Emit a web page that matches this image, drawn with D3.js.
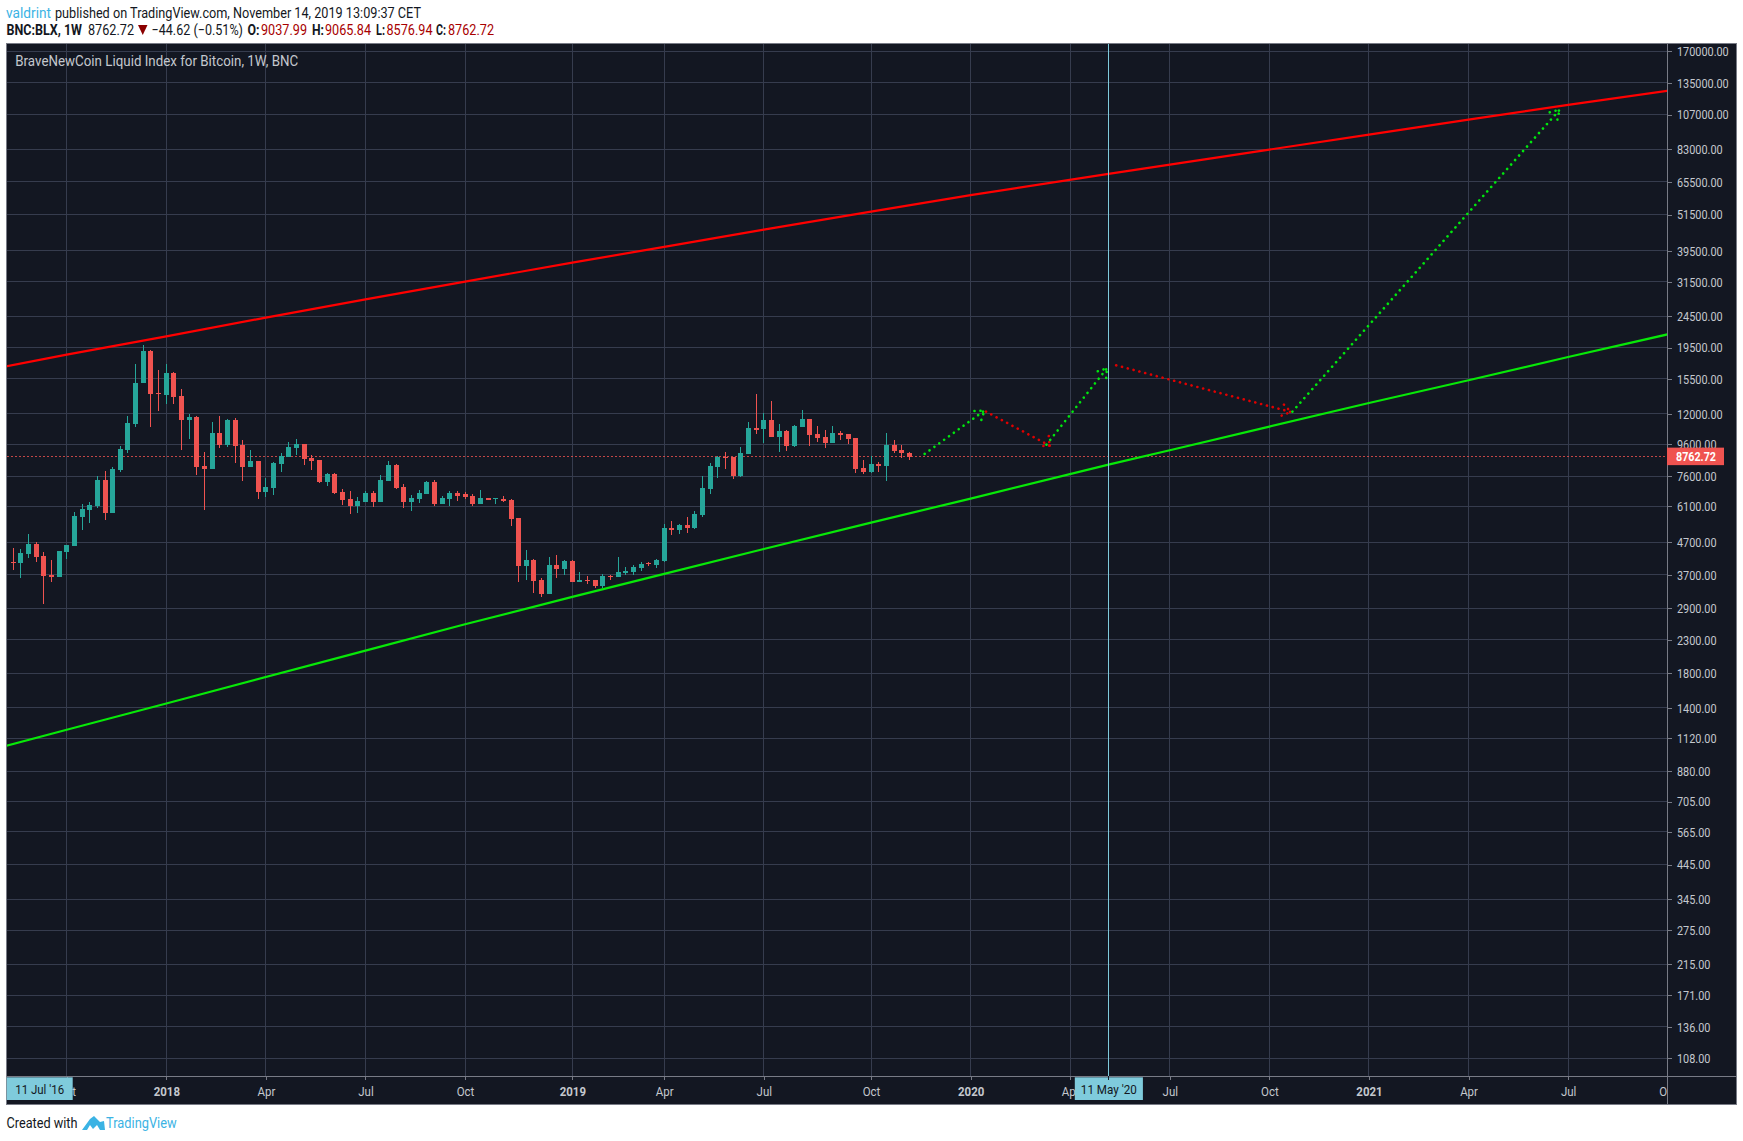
<!DOCTYPE html>
<html>
<head>
<meta charset="utf-8">
<title>BNC:BLX, 1W</title>
<script src="https://cdnjs.cloudflare.com/ajax/libs/d3/7.8.5/d3.min.js"></script>
<style>
	html, body { margin: 0; background: #fff; }
	svg { display: block; }
	text { font-family: "Roboto", sans-serif; }
</style>
</head>
<body>
<svg id="chart" width="1743" height="1141"></svg>
<script>
// weekly candles, first one is the week of 14 Aug 2017
var firstWeek = '2017-08-14';
var opens = [4077,4047,4322,4650,4260,3707,3653,4386,4583,5666,5962,6139,7424,5833,7987,9245,11180,15088,19064,14024,13821,16232,13720,11512,11767,8225,8047,10468,9589,11512,9589,8165,8531,6801,7003,8346,8785,9381,9659,8721,8593,7317,7757,6801,6462,6139,6321,6751,6321,7370,8285,7054,6321,6462,6702,7317,6229,6462,6751,6670,6605,6229,6509,6446,6462,6414,5624,3960,4137,3574,3226,3989,3874,4107,3522,3574,3574,3421,3680,3653,3761,3789,3902,4037,3989,4107,5228,5151,5343,5228,5749,6952,8165,8785,8785,7644,8979,10858,10779,11512,10166,10622,9519,10938,11596,10392,10166,9730,10468,10392,10092,8106,7871,8346,8225,9589,9245,9037.99];
var highs = [4505,4483,5003,4719,4386,4137,4418,4616,5876,6229,6321,7644,7929,8165,9519,11853,17336,19919,19204,16592,17336,16351,14440,12028,11853,9111,11345,11853,11596,11681,9946,9245,8531,7533,8469,9045,9801,10018,9659,8914,8593,7814,7814,6952,6851,6557,6851,6851,7700,8531,8346,7210,6654,6901,7370,7424,6605,6851,6851,6768,6702,6901,6509,6509,6605,6462,5624,4450,4167,3627,4229,4291,4137,4137,3789,3680,3574,3734,3707,4229,3931,3989,4077,4077,4167,5382,5502,5382,5666,5919,7644,8407,8849,9111,8785,9450,11345,13922,12116,13227,11180,10700,11099,12385,11596,11018,10700,11018,10570,10392,10092,8593,8849,8469,10468,9946,9589,9065.84];
var lows = [3845,3627,4198,4077,2999,3522,3653,4167,4583,5151,5422,6050,5542,5833,7871,9045,10938,15088,10938,12295,12940,12940,9245,10018,7700,5962,8047,9381,9450,8407,7370,8165,6462,6557,6654,7871,8785,8914,8285,7987,7263,7106,6702,6184,5791,5833,6321,6094,6321,7370,6952,6050,5919,6275,6702,6139,6229,6139,6367,6462,6139,6229,6414,6229,6321,5304,3522,3574,3250,3156,3226,3627,3707,3522,3522,3471,3371,3371,3574,3653,3707,3707,3817,3960,3902,4077,4967,5003,5040,5190,5666,6702,7533,8047,7479,7589,8979,10392,9730,10166,9111,9178,9450,10938,9519,9801,9381,9730,9946,9659,7814,7757,7814,7871,7370,9045,8721,8576.94];
var closes = [4057,4354,4650,4229,3680,3653,4418,4616,5707,6006,6184,7424,5833,8047,9313,11262,15088,19064,13922,13922,16232,13620,11512,11767,8165,8047,10468,9589,11512,9519,8165,8531,6801,7054,8407,8849,9450,9659,8657,8531,7317,7757,6751,6414,6139,6367,6751,6321,7424,8285,7003,6321,6509,6751,7317,6229,6509,6751,6605,6541,6229,6509,6414,6477,6367,5583,3960,4137,3548,3226,3989,3874,4107,3522,3574,3548,3421,3680,3653,3789,3817,3931,4018,3999,4137,5228,5151,5343,5228,5791,7003,8225,8763,8763,7644,9045,10858,10700,11512,10166,10622,9519,11018,11596,10316,10092,9730,10468,10316,10018,8047,7871,8346,8225,9589,9178,9045,8762.72];

// price scale labels
var priceTicks = [170000,135000,107000,83000,65500,51500,39500,31500,24500,19500,15500,12000,9600,7600,6100,4700,3700,2900,2300,1800,1400,1120,880,705,565,445,345,275,215,171,136,108];
var lastPrice = 8762.72;

// time scale labels
var timeTicks = ['2017-10-02','2018-01-01','2018-04-02','2018-07-02','2018-10-01','2019-01-07','2019-04-01','2019-07-01','2019-10-07','2020-01-06','2020-04-06','2020-07-06','2020-10-05','2021-01-04','2021-04-05','2021-07-05','2021-10-04'];
var timeLabels = ['Oct','2018','Apr','Jul','Oct','2019','Apr','Jul','Oct','2020','Apr','Jul','Oct','2021','Apr','Jul','Oct'];

// channel lines, weeks counted from 1 Jan 2018
var resistanceWeeks = [-21,-13,0,13,26,39,53,65,78,92,105,123,144,157,170,183,197];
var resistancePrices = [16960,18515,21165,24267,27738,31570,36273,40686,46172,52665,59373,69380,82860,92460,103190,114880,128480];
var supportWeeks = [-21,-13,0,26,39,53,65,78,92,105,123,131,144,157,170,183,197];
var supportPrices = [1059,1193,1445,2127,2578,3150,3727,4472,5422,6462,8287,9200,10938,13003,15348,18200,21746];

// dotted projection arrows, weeks from 1 Jan 2018
var moveFromWeek = [99,107,114.9,124,147];
var moveFromPrice = [8960,12205,9589,17125,12205];
var moveToWeek = [106.8,115.3,122.8,146.8,181.9];
var moveToPrice = [12295,9519,16755,12175,111000];
var armAWeek = [105.5,114.5,121.6,145.6,180.6];
var armAPrice = [12265,9496,16390,11853,108830];
var armBWeek = [106.4,115.2,122.7,145.9,181.6];
var armBPrice = [11485,10215,15612,12846,103180];
var moveUp = [true,false,true,false,true];

var crossWeek = 123;

var left = 6.5, right = 1667, top_ = 43.7, bottom = 1076, outerRight = 1736.7, outerBottom = 1104;
var bg = '#131722', gridCol = '#363c4e', frameCol = '#787b86', labelCol = '#c4c8ce', crossCol = '#7fcbdc';
var upCol = '#26a69a', downCol = '#ef5350';

var parse = d3.utcParse('%Y-%m-%d');
var base = parse('2018-01-01');
function weekDate(w) { return new Date(base.getTime() + w * 7 * 864e5); }

// the original font is narrower than anything installed, so squeeze the glyphs
function squeeze(sel, k) {
	sel.each(function() {
		this.setAttribute('textLength', this.getComputedTextLength() * k);
		this.setAttribute('lengthAdjust', 'spacingAndGlyphs');
	});
}
function fitTo(sel, w) {
	sel.attr('textLength', w).attr('lengthAdjust', 'spacingAndGlyphs');
	return sel;
}

var x = d3.scaleUtc()
	.domain([base, parse('2021-10-04')])
	.range([166.3, 1667.7]);

var y = d3.scaleLog()
	.domain([170000, 108])
	.range([51.3, 1058.3]);

var svg = d3.select('#chart');

var defs = svg.append('defs');
defs.append('clipPath').attr('id', 'pane')
	.append('rect').attr('x', left).attr('y', top_).attr('width', right - left).attr('height', bottom - top_);
defs.append('clipPath').attr('id', 'timepane')
	.append('rect').attr('x', left).attr('y', bottom).attr('width', right - left).attr('height', outerBottom - bottom);

// background and frame
svg.append('rect')
	.attr('x', left).attr('y', top_)
	.attr('width', outerRight - left).attr('height', outerBottom - top_)
	.attr('fill', bg);

var plot = svg.append('g').attr('clip-path', 'url(#pane)');

// grid
plot.append('g').selectAll('line')
	.data(priceTicks)
	.join('line')
	.attr('x1', left).attr('x2', right)
	.attr('y1', function(d) { return y(d); }).attr('y2', function(d) { return y(d); })
	.attr('stroke', gridCol).attr('shape-rendering', 'crispEdges');

plot.append('g').selectAll('line')
	.data(timeTicks)
	.join('line')
	.attr('x1', function(d) { return x(parse(d)); }).attr('x2', function(d) { return x(parse(d)); })
	.attr('y1', top_).attr('y2', bottom)
	.attr('stroke', gridCol).attr('shape-rendering', 'crispEdges');

// last price line
plot.append('line')
	.attr('x1', left).attr('x2', right)
	.attr('y1', y(lastPrice)).attr('y2', y(lastPrice))
	.attr('stroke', downCol)
	.attr('stroke-opacity', 0.8)
	.attr('stroke-dasharray', '2 2')
	.attr('shape-rendering', 'crispEdges');

// channel
var channel = d3.line()
	.x(function(d) { return x(weekDate(d[0])); })
	.y(function(d) { return y(d[1]); });

plot.append('path')
	.attr('d', channel(d3.zip(resistanceWeeks, resistancePrices)))
	.attr('fill', 'none').attr('stroke', '#ff0000').attr('stroke-width', 2.2);

plot.append('path')
	.attr('d', channel(d3.zip(supportWeeks, supportPrices)))
	.attr('fill', 'none').attr('stroke', '#08e808').attr('stroke-width', 2.2);

// candles
var candles = opens.map(function(o, i) {
	return {
		date: d3.utcDay.offset(parse(firstWeek), i * 7),
		o: o, h: highs[i], l: lows[i], c: closes[i]
	};
});

var candle = plot.append('g').selectAll('g')
	.data(candles)
	.join('g')
	.attr('fill', function(d) { return d.c >= d.o ? upCol : downCol; })
	.attr('shape-rendering', 'crispEdges');

candle.append('rect')
	.attr('x', function(d) { return x(d.date) - 0.5; })
	.attr('y', function(d) { return y(d.h); })
	.attr('width', 1)
	.attr('height', function(d) { return y(d.l) - y(d.h); });

candle.append('rect')
	.attr('x', function(d) { return x(d.date) - 2.5; })
	.attr('y', function(d) { return y(Math.max(d.o, d.c)); })
	.attr('width', 5)
	.attr('height', function(d) { return Math.max(1, Math.abs(y(d.o) - y(d.c))); });

// projection arrows
var arrows = plot.append('g').attr('fill', 'none');
moveUp.forEach(function(up, i) {
	var col = up ? '#00e60e' : '#e00000';
	var pieces = [
		[[moveFromWeek[i], moveFromPrice[i]], [moveToWeek[i], moveToPrice[i]]],
		[[armAWeek[i], armAPrice[i]], [moveToWeek[i], moveToPrice[i]]],
		[[armBWeek[i], armBPrice[i]], [moveToWeek[i], moveToPrice[i]]]
	];
	pieces.forEach(function(p) {
		arrows.append('path')
			.attr('d', channel(p))
			.attr('stroke', col)
			.attr('stroke-width', 2.6)
			.attr('stroke-linecap', 'round')
			.attr('stroke-dasharray', '0.1 5.9');
	});
});

// crosshair
var crossX = x(weekDate(crossWeek));
plot.append('line')
	.attr('x1', crossX).attr('x2', crossX)
	.attr('y1', top_).attr('y2', bottom)
	.attr('stroke', crossCol).attr('stroke-width', 1);

plot.append('text')
	.attr('x', 15.3).attr('y', 65.5)
	.attr('fill', labelCol).attr('font-size', 14)
	.attr('textLength', 283).attr('lengthAdjust', 'spacingAndGlyphs')
	.text('BraveNewCoin Liquid Index for Bitcoin, 1W, BNC');

// price axis
var yAxis = d3.axisRight(y)
	.tickValues(priceTicks)
	.tickFormat(d3.format('.2f'))
	.tickSize(5)
	.tickPadding(5);

var yg = svg.append('g')
	.attr('transform', 'translate(' + right + ',0)')
	.call(yAxis);
yg.select('.domain').remove();
yg.selectAll('line').attr('stroke', frameCol).attr('shape-rendering', 'crispEdges');
yg.selectAll('text').attr('fill', labelCol).attr('font-size', 13.5).attr('font-family', null);
squeeze(yg.selectAll('text'), 0.805);

// time axis
var xAxis = d3.axisBottom(x)
	.tickValues(timeTicks.map(parse))
	.tickFormat(function(d, i) { return timeLabels[i]; })
	.tickSize(4)
	.tickPadding(6);

var xg = svg.append('g')
	.attr('clip-path', 'url(#timepane)')
	.append('g')
	.attr('transform', 'translate(0,' + bottom + ')')
	.call(xAxis);
xg.select('.domain').remove();
xg.selectAll('line').attr('stroke', frameCol).attr('shape-rendering', 'crispEdges');
xg.selectAll('text')
	.attr('fill', labelCol).attr('font-size', 13.5).attr('font-family', null)
	.attr('font-weight', function(d, i) { return /^\d/.test(timeLabels[i]) ? 'bold' : 'normal'; });
squeeze(xg.selectAll('text'), 0.85);

// frame lines
var frame = svg.append('g').attr('stroke', frameCol).attr('fill', 'none').attr('shape-rendering', 'crispEdges');
frame.append('rect')
	.attr('x', left).attr('y', top_)
	.attr('width', outerRight - left).attr('height', outerBottom - top_);
frame.append('line').attr('x1', right).attr('x2', right).attr('y1', top_).attr('y2', outerBottom);
frame.append('line').attr('x1', left).attr('x2', outerRight).attr('y1', bottom).attr('y2', bottom);

// last price tag
svg.append('rect')
	.attr('x', right).attr('y', y(lastPrice) - 9.3)
	.attr('width', 57).attr('height', 17.5)
	.attr('fill', downCol);
fitTo(svg.append('text')
	.attr('x', right + 9).attr('y', y(lastPrice) + 4.5)
	.attr('fill', '#fff').attr('font-size', 13.5).attr('font-weight', 'bold')
	.text(d3.format('.2f')(lastPrice)), 40);

// crosshair date tags
function dateTag(x0, x1, label, w) {
	svg.append('rect')
		.attr('x', x0).attr('y', bottom + 1.3)
		.attr('width', x1 - x0).attr('height', 22.7)
		.attr('fill', crossCol);
	fitTo(svg.append('text')
		.attr('x', (x0 + x1) / 2).attr('y', bottom + 17.5)
		.attr('text-anchor', 'middle')
		.attr('fill', bg).attr('font-size', 13.5)
		.text(label), w);
}
dateTag(6.7, 72.7, "11 Jul '16", 49);
dateTag(1074.8, 1142.9, "11 May '20", 56);
svg.append('line')
	.attr('x1', crossX).attr('x2', crossX)
	.attr('y1', bottom).attr('y2', bottom + 4)
	.attr('stroke', bg);

// header
var header = svg.append('g').attr('font-size', 14.5).attr('fill', '#131722');
fitTo(header.append('text').attr('x', 6).attr('y', 17.5).attr('fill', '#3bb3e4').text('valdrint'), 45);
fitTo(header.append('text').attr('x', 55).attr('y', 17.5).text('published on TradingView.com, November 14, 2019 13:09:37 CET'), 366);
fitTo(header.append('text').attr('x', 6.5).attr('y', 35).attr('font-weight', 'bold').text('BNC:BLX, 1W'), 75.5);
fitTo(header.append('text').attr('x', 88).attr('y', 35).text('8762.72'), 46);
header.append('path').attr('d', 'M138,25H147.5L142.75,35Z').attr('fill', '#8b0000');
fitTo(header.append('text').attr('x', 151.5).attr('y', 35).text('\u221244.62 (\u22120.51%)'), 91.5);

var ohlcLabels = ['O:', 'H:', 'L:', 'C:'];
var ohlcValues = ['9037.99', '9065.84', '8576.94', '8762.72'];
var ohlcLabelX = [247.6, 312, 376, 436];
var ohlcLabelW = [12, 12, 9, 10];
var ohlcValueX = [261, 325, 386.5, 448];
ohlcLabels.forEach(function(l, i) {
	fitTo(header.append('text').attr('x', ohlcLabelX[i]).attr('y', 35).attr('font-weight', 'bold').text(l), ohlcLabelW[i]);
	fitTo(header.append('text').attr('x', ohlcValueX[i]).attr('y', 35).attr('fill', '#a80000').text(ohlcValues[i]), 46);
});

// footer
fitTo(svg.append('text').attr('x', 6.5).attr('y', 1128).attr('font-size', 14.5).attr('fill', '#131722').text('Created with'), 71);
svg.append('path')
	.attr('d', 'M82,1130L90,1119L94,1116L100,1122L104,1121L105,1130L100,1130L97,1125L93,1129L90,1125L87,1130Z')
	.attr('fill', '#3bb3e4');
fitTo(svg.append('text').attr('x', 106).attr('y', 1128).attr('font-size', 14.5).attr('fill', '#3bb3e4').text('TradingView'), 70.7);
</script>
</body>
</html>
